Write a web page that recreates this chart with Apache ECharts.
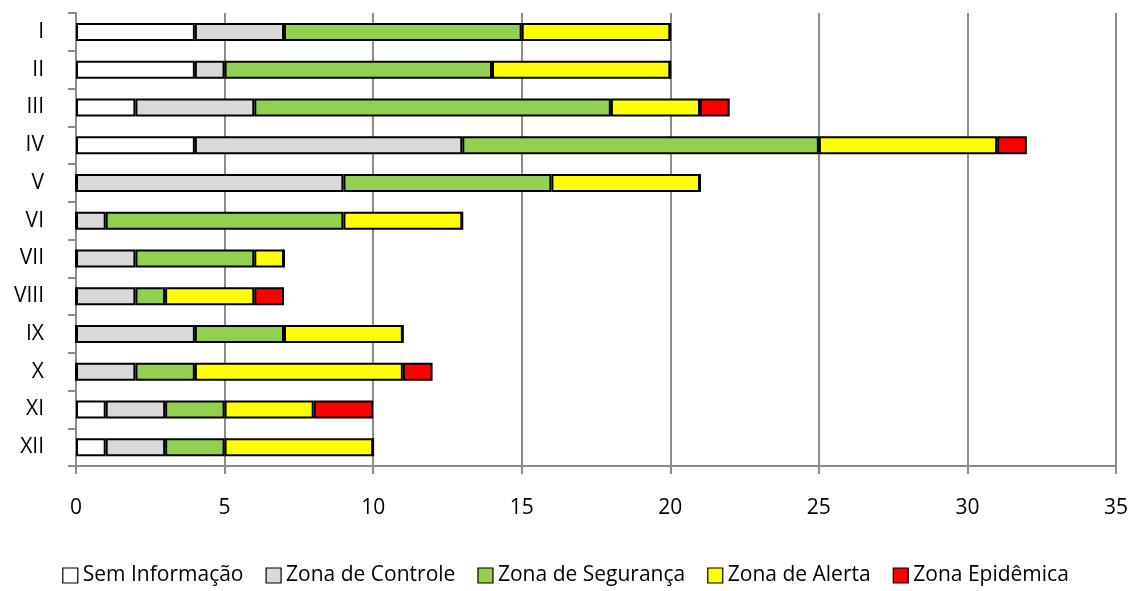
<!DOCTYPE html>
<html>
<head>
<meta charset="utf-8">
<script src="https://cdn.jsdelivr.net/npm/echarts@6/dist/echarts.min.js"></script>
<style>
    html, body { margin: 0; padding: 0; background: #fff; }
    #chart { width: 1131px; height: 591px; }
</style>
</head>
<body>
<div id="chart"></div>
<script>
// months (roman numerals), top to bottom
var categories = ['I', 'II', 'III', 'IV', 'V', 'VI', 'VII', 'VIII', 'IX', 'X', 'XI', 'XII'];

var semInformacao  = [4, 4, 2, 4, 0, 0, 0, 0, 0, 0, 1, 1];
var zonaControle   = [3, 1, 4, 9, 9, 1, 2, 2, 4, 2, 2, 2];
var zonaSeguranca  = [8, 9, 12, 12, 7, 8, 4, 1, 3, 2, 2, 2];
var zonaAlerta     = [5, 6, 3, 6, 5, 4, 1, 3, 4, 7, 3, 5];
var zonaEpidemica  = [0, 0, 1, 1, 0, 0, 0, 1, 0, 1, 2, 0];

var xTicks = [0, 5, 10, 15, 20, 25, 30, 35];

var fontName = 'Open Sans';

var chart = echarts.init(document.getElementById('chart'));

function makeSeries(name, data, color) {
    return {
        name: name,
        type: 'bar',
        stack: 'total',
        barWidth: 18,
        data: data,
        itemStyle: {
            color: color,
            borderColor: '#000',
            borderWidth: 2
        }
    };
}

var option = {
    animation: false,
    textStyle: { fontFamily: fontName },
    grid: {
        left: 76,
        right: 14,
        top: 13,
        bottom: 125
    },
    legend: {
        bottom: 0,
        left: 'center',
        itemWidth: 15,
        itemHeight: 15,
        itemGap: 22,
        icon: 'rect',
        textStyle: { fontSize: 21, color: '#000', fontFamily: fontName },
        itemStyle: { borderColor: '#000', borderWidth: 1.2 },
        data: ['Sem Informação', 'Zona de Controle', 'Zona de Segurança', 'Zona de Alerta', 'Zona Epidêmica']
    },
    xAxis: {
        type: 'value',
        min: xTicks[0],
        max: xTicks[xTicks.length - 1],
        interval: 5,
        axisLine: { show: true, lineStyle: { color: '#8c8c8c', width: 2 } },
        axisTick: { show: true, length: 8, lineStyle: { color: '#8c8c8c', width: 2 } },
        splitLine: { show: true, lineStyle: { color: '#8c8c8c', width: 2 } },
        axisLabel: { fontSize: 21, color: '#000', margin: 32 }
    },
    yAxis: {
        type: 'category',
        inverse: true,
        data: categories,
        axisLine: { show: true, lineStyle: { color: '#8c8c8c', width: 2 } },
        axisTick: { show: true, length: 8, lineStyle: { color: '#8c8c8c', width: 2 } },
        axisLabel: { fontSize: 21, color: '#000', margin: 32 }
    },
    series: [
        makeSeries('Sem Informação', semInformacao, '#ffffff'),
        makeSeries('Zona de Controle', zonaControle, '#d9d9d9'),
        makeSeries('Zona de Segurança', zonaSeguranca, '#92d050'),
        makeSeries('Zona de Alerta', zonaAlerta, '#ffff00'),
        makeSeries('Zona Epidêmica', zonaEpidemica, '#ff0000')
    ]
};

chart.setOption(option);
</script>
</body>
</html>
